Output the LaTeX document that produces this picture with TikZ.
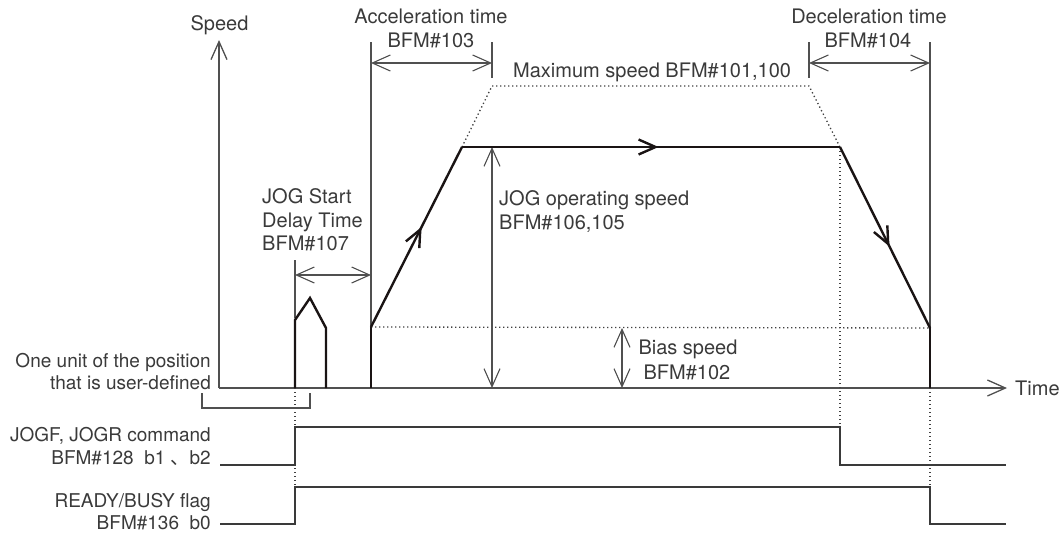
\documentclass[tikz,border=0pt]{standalone}
\usepackage{fontspec}
\setmainfont{TeX Gyre Heros}
\newfontfamily\cjk{Noto Sans CJK SC}
\usetikzlibrary{arrows.meta,decorations.markings}
\definecolor{txt}{HTML}{3A3A3A}
\definecolor{thin}{HTML}{505050}
\definecolor{prof}{HTML}{1A1414}
\definecolor{dotc}{HTML}{404040}
\begin{document}
\begin{tikzpicture}[x=1pt,y=-1pt,
  lbl/.style={text=txt, font=\fontsize{20}{24}\selectfont, inner sep=0pt},
  lbls/.style={lbl, font=\fontsize{19}{24}\selectfont},
  barb/.tip={Straight Barb[length=18pt,width=16pt]},
  pbarb/.tip={Straight Barb[length=17pt,width=15pt]},
  thinline/.style={draw=thin, line width=1.1pt},
  dimarrow/.style={thinline, barb-barb},
  profile/.style={draw=prof, line width=2.4pt, line join=miter},
  dots/.style={draw=dotc, line width=1.3pt, dash pattern=on 1.3pt off 2.7pt},
  sig/.style={draw=txt, line width=1.5pt},
  midarrow/.style={postaction={decorate}, decoration={markings, mark=at position #1 with {\arrow{pbarb}}}},
]
\useasboundingbox (0,0) rectangle (1061,533);

% key coordinates
\coordinate (o) at (219,388);
\coordinate (yt) at (219,40);
\coordinate (xt) at (1007,388);
\coordinate (s0) at (371,388);
\coordinate (s1) at (371,327);
\coordinate (s2) at (462,147);
\coordinate (s3) at (840,147);
\coordinate (s4) at (930,328);
\coordinate (s5) at (930,388);
\coordinate (m1) at (492,86);
\coordinate (m2) at (809,86);

% axes
\draw[thinline, line width=1.3pt, -barb] (o) -- (yt);
\draw[thinline, line width=1.3pt, -barb] (o) -- (xt);

% dotted guides
\draw[dots] (s2) -- (m1) -- (m2) -- (s3);
\draw[dots] (s1) -- (s4);
\coordinate (d1) at (840,427);
\coordinate (d2) at (930,487);
\coordinate (d3a) at (295,388);
\coordinate (d3b) at (295,487);
\draw[dots] (s3) -- (d1);
\draw[dots] (s5) -- (d2);
\draw[dots] (d3a) -- (d3b);

% extension lines
\coordinate (ea1) at (371,42);
\coordinate (ea2) at (492,42);
\coordinate (ea2b) at (492,78);
\coordinate (ed1) at (809,42);
\coordinate (ed1b) at (809,78);
\coordinate (ed2) at (930,42);
\coordinate (ej1) at (295,260);
\coordinate (ej1b) at (295,318);
\draw[thinline] (ea1) -- (s1);
\draw[thinline] (ea2) -- (ea2b);
\draw[thinline] (ed1) -- (ed1b);
\draw[thinline] (ed2) -- (s4);
\draw[thinline] (ej1) -- (ej1b);

% dimension arrows
\coordinate (aa1) at (371,63); \coordinate (aa2) at (492,63);
\coordinate (ad1) at (809,63); \coordinate (ad2) at (930,63);
\coordinate (aj1) at (295,275); \coordinate (aj2) at (371,275);
\coordinate (ao1) at (492,147); \coordinate (ao2) at (492,388);
\coordinate (ab1) at (622,328); \coordinate (ab2) at (622,388);
\draw[dimarrow] (aa1) -- (aa2);
\draw[dimarrow] (ad1) -- (ad2);
\draw[dimarrow] (aj1) -- (aj2);
\draw[dimarrow] (ao1) -- (ao2);
\draw[dimarrow] (ab1) -- (ab2);

% bracket
\coordinate (b1) at (202,393); \coordinate (b2) at (202,408);
\coordinate (b3) at (310,408); \coordinate (b4) at (310,393);
\draw[thinline] (b1) -- (b2) -- (b3) -- (b4);

% pulse
\coordinate (p1) at (295,320); \coordinate (p2) at (310,298);
\coordinate (p3) at (326,328); \coordinate (p4) at (326,388);
\draw[profile] (d3a) -- (p1) -- (p2) -- (p3) -- (p4);

% speed profile
\draw[profile] (s0) -- (s1);
\draw[profile, midarrow=0.556] (s1) -- (s2);
\draw[profile, midarrow=0.52] (s2) -- (s3);
\draw[profile, midarrow=0.55] (s3) -- (s4);
\draw[profile] (s4) -- (s5);
\draw[profile, line width=0.1pt] (s1) -- (s2) -- (s3) -- (s4);

% signals
\coordinate (j0) at (220,465); \coordinate (j1) at (295,465);
\coordinate (j2) at (295,427); \coordinate (j3) at (1006,465);
\coordinate (j4) at (840,465);
\draw[sig] (j0) -- (j1) -- (j2) -- (d1) -- (j4) -- (j3);
\coordinate (r0) at (220,524); \coordinate (r1) at (295,524);
\coordinate (r3) at (930,524); \coordinate (r4) at (1006,524);
\draw[sig] (r0) -- (r1) -- (d3b) -- (d2) -- (r3) -- (r4);

% labels
\node[lbl, anchor=base] (speed) at (219.5,30) {Speed};
\node[lbl, anchor=base] (acc1) at (431,23) {Acceleration time};
\node[lbl, anchor=base] (acc2) at (431,47) {BFM\#103};
\node[lbl, anchor=base] (dec1) at (869,23) {Deceleration time};
\node[lbl, anchor=base] (dec2) at (868,47) {BFM\#104};
\node[lbl, anchor=base west] (max) at (513,77) {Maximum speed BFM\#101,100};
\node[lbl, anchor=base west] (jd1) at (262,203) {JOG Start};
\node[lbl, anchor=base west] (jd2) at (262,227) {Delay Time};
\node[lbl, anchor=base west] (jd3) at (262,250) {BFM\#107};
\node[lbl, anchor=base west] (jo1) at (499,205) {JOG operating speed};
\node[lbl, anchor=base west] (jo2) at (499,229) {BFM\#106,105};
\node[lbl, anchor=base] (bs1) at (688,354) {Bias speed};
\node[lbl, anchor=base] (bs2) at (687,379) {BFM\#102};
\node[lbls, anchor=base east] (ou1) at (211,367) {One unit of the position};
\node[lbls, anchor=base east] (ou2) at (211,389) {that is user-defined};
\node[lbls, anchor=base east] (jg1) at (211,441) {JOGF, JOGR command};
\node[lbls, anchor=base east] (jg2) at (211,464) {BFM\#128\ \ b1 {\cjk 、}b2};
\node[lbls, anchor=base east] (rb1) at (211,507) {READY/BUSY flag};
\node[lbls, anchor=base east] (rb2) at (211,529) {BFM\#136\ \ b0};
\node[lbl, anchor=base west] (time) at (1015,395) {Time};
\end{tikzpicture}
\end{document}
